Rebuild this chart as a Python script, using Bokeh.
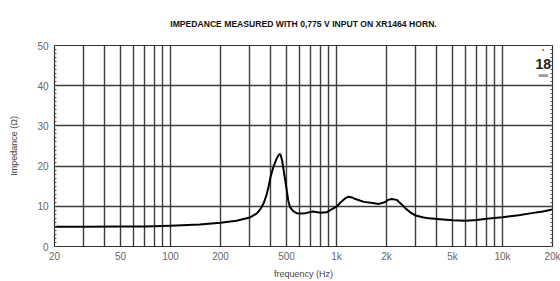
from bokeh.plotting import figure
from bokeh.models import FixedTicker, LinearAxis, Label, Range1d
from bokeh.embed import file_html
from bokeh.resources import INLINE

# Data
freq_hz = [20, 30, 50, 70, 100, 150, 200, 250, 300, 330, 348, 365, 380, 390, 400,
           415, 434, 447, 455, 462, 470, 480, 492, 502, 512, 525, 548, 575, 600,
           650, 720, 800, 870, 910, 1000, 1060, 1120, 1180, 1240, 1300, 1460, 1650,
           1800, 1950, 2050, 2150, 2300, 2450, 2600, 2800, 3000, 3300, 3600, 4200,
           5000, 6000, 7000, 8000, 10000, 12500, 15000, 17500, 20000]
impedance_ohm = [4.9, 4.9, 5.0, 5.0, 5.15, 5.45, 5.9, 6.4, 7.2, 8.2, 9.3, 10.9,
                 13.0, 15.0, 17.2, 19.6, 21.7, 22.7, 23.0, 22.6, 21.4, 19.0, 16.3,
                 13.8, 11.4, 9.8, 8.8, 8.3, 8.2, 8.3, 8.7, 8.4, 8.5, 9.0, 9.9, 11.0,
                 11.9, 12.4, 12.2, 11.8, 11.1, 10.8, 10.6, 11.0, 11.6, 11.8, 11.6,
                 10.6, 9.5, 8.4, 7.7, 7.3, 7.0, 6.8, 6.5, 6.4, 6.6, 6.9, 7.3, 7.8,
                 8.3, 8.7, 9.2]

x_ticks = [20, 50, 100, 200, 500, 1000, 2000, 5000, 10000, 20000]
x_tick_labels = ["20", "50", "100", "200", "500", "1k", "2k", "5k", "10k", "20k"]
x_grid = [30, 40, 50, 60, 70, 80, 90, 100, 200, 300, 400, 500, 600, 700, 800, 900,
          1000, 2000, 3000, 4000, 5000, 6000, 7000, 8000, 9000, 10000]
y_ticks = [0, 10, 20, 30, 40, 50]
y_grid = [10, 20, 30, 40]
y_minor = list(range(0, 51))

title_text = "IMPEDANCE MEASURED WITH 0,775 V INPUT ON XR1464 HORN."

FONT = "Liberation Sans"
GRID = "#3c3c3c"
LABEL = "#666666"

p = figure(width=560, height=281, x_axis_type="log",
           x_range=Range1d(20, 20000), y_range=Range1d(0, 50),
           output_backend="svg", toolbar_location=None,
           min_border_left=54, min_border_right=8,
           min_border_top=45, min_border_bottom=35)

p.title.text = title_text
p.title.align = "center"
p.title.text_font = FONT
p.title.text_font_size = "8.6px"
p.title.text_font_style = "bold"
p.title.text_color = "#111111"
p.title.offset = 0
p.title.standoff = 33

p.outline_line_color = "#333333"
p.outline_line_width = 1.2
p.background_fill_color = "white"
p.border_fill_color = "white"

# grids
p.xgrid.ticker = FixedTicker(ticks=x_grid)
p.ygrid.ticker = FixedTicker(ticks=y_grid)
for g in (p.xgrid, p.ygrid):
    g.grid_line_color = GRID
    g.grid_line_width = 1.4
    g.grid_line_alpha = 1.0

# x axis
xa = p.xaxis[0]
xa.ticker = FixedTicker(ticks=x_ticks)
xa.major_label_overrides = {t: l for t, l in zip(x_ticks, x_tick_labels)}
xa.major_tick_out = 0
xa.major_tick_in = 0
xa.minor_tick_out = 0
xa.minor_tick_in = 0
xa.axis_line_color = "#333333"
xa.axis_label = "frequency (Hz)"
xa.axis_label_text_font = FONT
xa.axis_label_text_font_size = "9px"
xa.axis_label_text_font_style = "normal"
xa.axis_label_text_color = "#444444"
xa.axis_label_standoff = 4
xa.major_label_text_font = FONT
xa.major_label_text_font_size = "10px"
xa.major_label_text_color = LABEL
xa.major_label_standoff = 4

# y axis
ya = p.yaxis[0]
ya.ticker = FixedTicker(ticks=y_ticks, minor_ticks=y_minor)
ya.major_tick_out = 0
ya.major_tick_in = 4
ya.minor_tick_out = 0
ya.minor_tick_in = 2
ya.major_tick_line_color = "#333333"
ya.minor_tick_line_color = "#555555"
ya.axis_line_color = "#333333"
ya.axis_label = "Impedance (\u03a9)"
ya.axis_label_text_font = FONT
ya.axis_label_text_font_size = "9px"
ya.axis_label_text_font_style = "normal"
ya.axis_label_text_color = "#444444"
ya.axis_label_standoff = 15
ya.major_label_text_font = FONT
ya.major_label_text_font_size = "10px"
ya.major_label_text_color = LABEL
ya.major_label_standoff = 6

# right-hand axis (minor ticks only, no labels)
ra = LinearAxis(ticker=FixedTicker(ticks=[], minor_ticks=y_minor))
ra.major_tick_out = 0
ra.major_tick_in = 0
ra.minor_tick_out = 0
ra.minor_tick_in = 2
ra.axis_line_color = "#333333"
ra.minor_tick_line_color = "#555555"
ra.major_label_standoff = 0
p.add_layout(ra, "right")

# curve
p.line(freq_hz, impedance_ohm, line_color="black", line_width=2,
       line_join="round")

# logo
p.add_layout(Label(x=17600, y=45.5, text="18", text_font=FONT,
                   text_font_size="14px", text_font_style="bold",
                   text_color="#222222", text_align="center",
                   text_baseline="middle"))
p.add_layout(Label(x=17600, y=48.9, text="\u2022", text_font=FONT,
                   text_font_size="7px", text_color="#e04040",
                   text_align="center", text_baseline="middle"))
p.add_layout(Label(x=17600, y=43.0, text="\u25ac", text_font=FONT,
                   text_font_size="9px", text_color="#999999",
                   text_align="center", text_baseline="middle"))

open("out.html", "w").write(file_html(p, INLINE))
